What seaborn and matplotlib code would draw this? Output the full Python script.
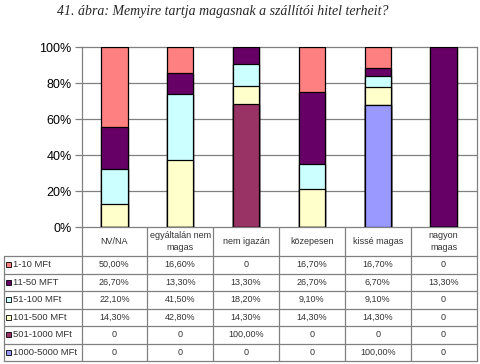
import numpy as np
import pandas as pd
import seaborn as sns
import matplotlib.pyplot as plt
from matplotlib.patches import Rectangle

categories = ["NV/NA", "egyáltalán nem\nmagas", "nem igazán", "közepesen", "kissé magas", "nagyon\nmagas"]
series_names = ["1-10 MFt", "11-50 MFT", "51-100 MFt", "101-500 MFt", "501-1000 MFt", "1000-5000 MFt"]
v_1_10 = [50.0, 16.6, 0, 16.7, 16.7, 0]
v_11_50 = [26.7, 13.3, 13.3, 26.7, 6.7, 13.3]
v_51_100 = [22.1, 41.5, 18.2, 9.1, 9.1, 0]
v_101_500 = [14.3, 42.8, 14.3, 14.3, 14.3, 0]
v_501_1000 = [0, 0, 100.0, 0, 0, 0]
v_1000_5000 = [0, 0, 0, 0, 100.0, 0]
colors = ["#FF8080", "#660066", "#CCFFFF", "#FFFFCC", "#993366", "#9999FF"]

values = [v_1_10, v_11_50, v_51_100, v_101_500, v_501_1000, v_1000_5000]
df = pd.DataFrame(values, index=series_names, columns=categories)

# 100% stacked: bottom series is the last row
pct = df / df.sum(axis=0) * 100
cum = pct.iloc[::-1].cumsum()  # bottom -> top cumulative

sns.set_style("white")
plt.rcParams["font.family"] = ["Liberation Sans", "DejaVu Sans"]

fig = plt.figure(figsize=(4.8, 3.64), dpi=100)
W, H = 480, 364
x0, x1 = 81.5, 476.5
y_top, y_bot = 47.3, 227

ax = fig.add_axes([x0 / W, 1 - y_bot / H, (x1 - x0) / W, (y_bot - y_top) / H])

# draw from top layer down so lower layers cover the upper ones
for name in series_names:
    c = colors[series_names.index(name)]
    d = pd.DataFrame({"cat": categories, "val": cum.loc[name].values})
    sns.barplot(data=d, x="cat", y="val", order=categories, color=c, saturation=1,
                edgecolor="black", linewidth=0.9, width=0.4, ax=ax, zorder=3)

ax.set_ylim(0, 100)
ax.set_xlim(-0.5, 5.5)
ax.set_yticks([0, 20, 40, 60, 80, 100])
ax.set_yticklabels([f"{t}%" for t in [0, 20, 40, 60, 80, 100]], fontsize=9, color="black")
ax.set_xticks([])
ax.set_xlabel("")
ax.set_ylabel("")
for t in [20, 40, 60, 80]:
    ax.axhline(t, color="#808080", linewidth=0.9, zorder=1)
ax.tick_params(axis="y", left=True, length=5, width=0.9, color="#808080", pad=2)
for s in ax.spines.values():
    s.set_color("#808080")
    s.set_linewidth(0.9)

fig.text(223 / W, 1 - 12 / H, "41. ábra: Memyire tartja magasnak a szállítói hitel terheit?",
         ha="center", va="center", fontsize=10, style="italic", family="Liberation Serif")

# data table below the chart, drawn in pixel coordinates
tab = fig.add_axes([0, 0, 1, 1])
tab.set_xlim(0, W)
tab.set_ylim(H, 0)
tab.axis("off")
tab.patch.set_alpha(0)

lc = "#808080"
lw = 0.9
col_w = (x1 - x0) / 6
row_lines = [256, 273.5, 291, 308.5, 326, 343.5, 361]
header_top = y_bot

# horizontal lines
for y in row_lines:
    tab.plot([3.5, x1], [y, y], color=lc, lw=lw)
# vertical lines
tab.plot([3.5, 3.5], [row_lines[0], row_lines[-1]], color=lc, lw=lw)
for i in range(7):
    xx = x0 + i * col_w
    tab.plot([xx, xx], [header_top, row_lines[-1]], color=lc, lw=lw)

txt_c = "#333333"
fs = 6.5
for j, cat in enumerate(categories):
    cx = x0 + (j + 0.5) * col_w
    tab.text(cx, (header_top + row_lines[0]) / 2, cat, ha="center", va="center",
             fontsize=fs, color=txt_c, linespacing=1.5)


def fmt(v):
    if v == 0:
        return "0"
    return f"{v:.2f}%".replace(".", ",")


for i, name in enumerate(series_names):
    cy = (row_lines[i] + row_lines[i + 1]) / 2
    tab.add_patch(Rectangle((5.5, cy - 2.5), 5, 5, facecolor=colors[i],
                            edgecolor="black", linewidth=0.6))
    tab.text(13, cy, name, ha="left", va="center", fontsize=fs + 0.3, color=txt_c)
    for j in range(6):
        cx = x0 + (j + 0.5) * col_w
        tab.text(cx, cy, fmt(values[i][j]), ha="center", va="center", fontsize=fs, color=txt_c)

fig.savefig("out.png", dpi=100, facecolor="white")
